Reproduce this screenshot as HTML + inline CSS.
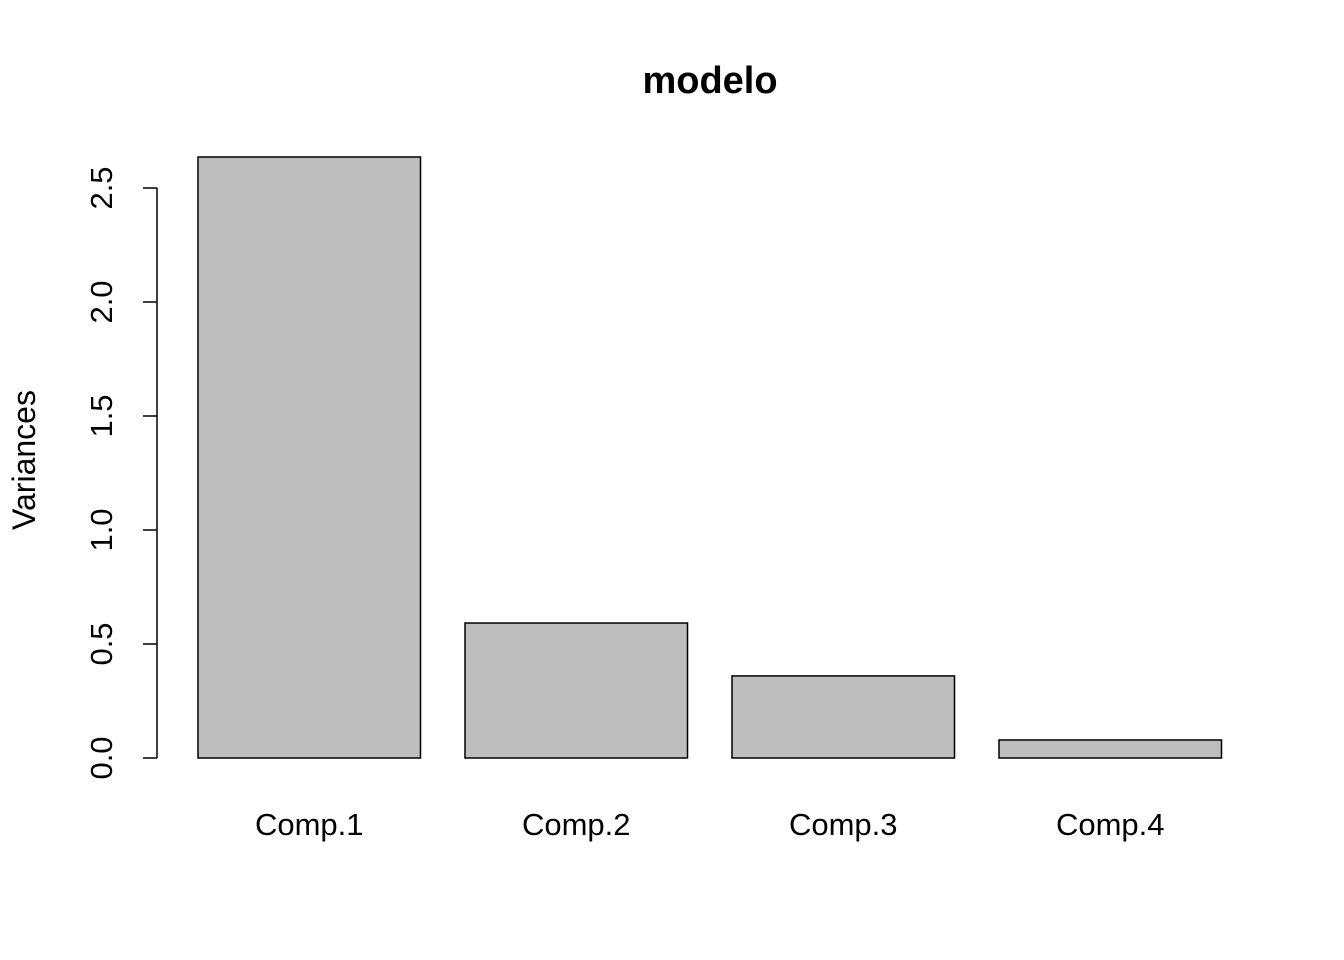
<!DOCTYPE html>
<html><head><meta charset="utf-8"><style>
body{margin:0;background:#fff}
svg{display:block;font-family:"Liberation Sans",Arial,sans-serif}
</style></head><body>
<svg id="chart" width="1344" height="960" xmlns="http://www.w3.org/2000/svg">
<rect width="1344" height="960" fill="#fff"/>
<text x="710" y="93" text-anchor="middle" font-size="38" font-weight="bold">modelo</text>
<text transform="translate(35,460) rotate(-90)" text-anchor="middle" font-size="32">Variances</text>
<g id="yaxis"></g>
<g id="bars"></g>
<g id="xlabels"></g>
</svg>
<script>
const categories=["Comp.1","Comp.2","Comp.3","Comp.4"];
const variances=[2.636,0.592,0.360,0.079];
const yTicks=[0,0.5,1,1.5,2,2.5];
const yTickLabels=["0.0","0.5","1.0","1.5","2.0","2.5"];
const NS="http://www.w3.org/2000/svg";
const y=v=>758-v*228;
const x=u=>153.5+u*222.5;
function mk(t,a,p){const e=document.createElementNS(NS,t);for(const k in a)e.setAttribute(k,a[k]);p.appendChild(e);return e;}
const ya=document.getElementById('yaxis');
mk('line',{x1:157,x2:157,y1:y(yTicks[0]),y2:y(yTicks[yTicks.length-1]),stroke:'#000','stroke-width':1.5},ya);
yTicks.forEach((v,i)=>{
 const l=mk('line',{x1:143,x2:157,y1:y(v),y2:y(v),stroke:'#000','stroke-width':1.5},ya);
 
 
 const t=mk('text',{transform:`translate(112,${y(v)}) rotate(-90)`,'text-anchor':'middle','font-size':31},ya);
 t.textContent=yTickLabels[i];
 
 
});
const bg=document.getElementById('bars'),xl=document.getElementById('xlabels');
categories.forEach((c,i)=>{
 const left=0.2+1.2*i;
 const r=mk('rect',{x:x(left),y:y(variances[i]),width:x(left+1)-x(left),height:y(0)-y(variances[i]),fill:'#bebebe',stroke:'#000','stroke-width':1.5},bg);
 
 
 const t=mk('text',{x:x(left+0.5),y:835,'text-anchor':'middle','font-size':31},xl);
 t.textContent=c;
 
 
});
</script>
</body></html>
